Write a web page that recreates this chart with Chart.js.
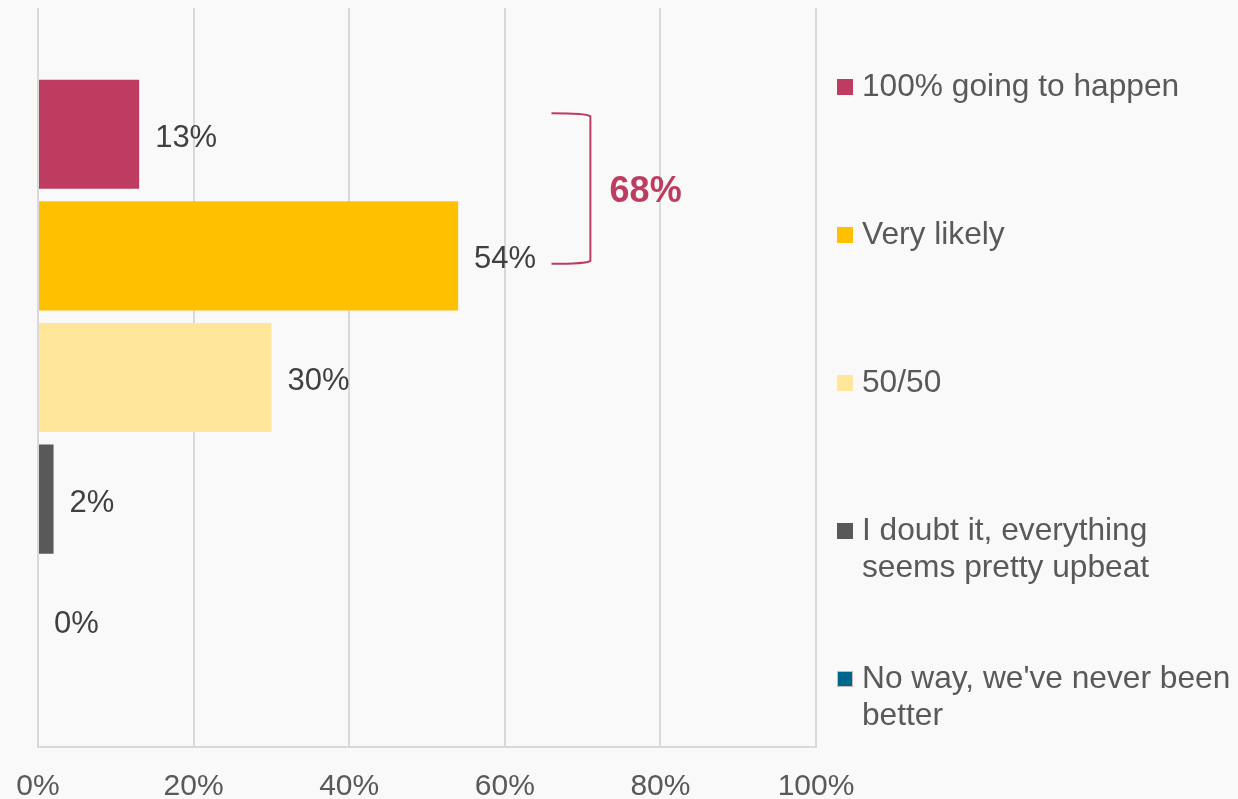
<!DOCTYPE html>
<html>
<head>
<meta charset="utf-8">
<script src="https://cdn.jsdelivr.net/npm/chart.js@4/dist/chart.umd.min.js"></script>
<style>
  html, body { margin: 0; padding: 0; background: #f9f9f9; }
  #wrap { position: relative; width: 1238px; height: 799px; }
</style>
</head>
<body>
<div id="wrap"><canvas id="c" width="1238" height="799"></canvas></div>
<script>
const categories = [''];
const seriesNames = [
  '100% going to happen',
  'Very likely',
  '50/50',
  ['I doubt it, everything', 'seems pretty upbeat'],
  ["No way, we've never been", 'better']
];
const seriesValues = [13, 54, 30, 2, 0];
const seriesColors = ['#be3c5f', '#ffc000', '#ffe699', '#595959', '#00668e'];
const tickValues = [0, 20, 40, 60, 80, 100];
const bracketLabel = '68%';

const FONT = '"Liberation Sans", Arial, sans-serif';

const datasets = seriesValues.map((v, i) => ({
  label: Array.isArray(seriesNames[i]) ? seriesNames[i].join(' ') : seriesNames[i],
  data: [v],
  backgroundColor: seriesColors[i],
  borderWidth: 0,
  categoryPercentage: 0.823,
  barPercentage: 0.897
}));

const overlay = {
  id: 'overlay',
  afterDatasetsDraw(chart) {
    const ctx = chart.ctx;
    const xs = chart.scales.x;
    ctx.save();
    // data labels
    ctx.font = '31px ' + FONT;
    ctx.fillStyle = '#404040';
    ctx.textBaseline = 'middle';
    ctx.textAlign = 'left';
    chart.data.datasets.forEach((ds, i) => {
      const el = chart.getDatasetMeta(i).data[0];
      ctx.fillText(seriesValues[i] + '%', el.x + 16, el.y + 4);
    });
    // bracket
    const e0 = chart.getDatasetMeta(0).data[0];
    const e1 = chart.getDatasetMeta(1).data[0];
    const top = e0.y - 21, bot = e1.y + 8;
    const xl = xs.getPixelForValue(66), xr = xs.getPixelForValue(71);
    ctx.strokeStyle = '#be3c5f';
    ctx.lineWidth = 2;
    ctx.beginPath();
    ctx.moveTo(xl, top);
    ctx.quadraticCurveTo(xr - 4, top, xr, top + 3);
    ctx.lineTo(xr, bot - 3);
    ctx.quadraticCurveTo(xr - 4, bot, xl, bot);
    ctx.stroke();
    ctx.font = 'bold 36px ' + FONT;
    ctx.fillStyle = '#be3c5f';
    ctx.textAlign = 'center';
    ctx.fillText(bracketLabel, xs.getPixelForValue(78.1), (top + bot) / 2 + 4);
    // legend
    ctx.font = '31.7px ' + FONT;
    ctx.textAlign = 'left';
    ctx.textBaseline = 'middle';
    const lx = chart.chartArea.right + 21;
    seriesNames.forEach((name, i) => {
      const y = 87 + i * 148;
      ctx.fillStyle = seriesColors[i];
      ctx.fillRect(lx, y - 8, 16, 16);
      if (i === 4) { ctx.strokeStyle = '#bfbfbf'; ctx.lineWidth = 1; ctx.strokeRect(lx + 0.5, y - 7.5, 15, 15); }
      ctx.fillStyle = '#595959';
      const lines = Array.isArray(name) ? name : [name];
      lines.forEach((t, j) => ctx.fillText(t, lx + 25, y + j * 37));
    });
    ctx.restore();
  }
};

new Chart(document.getElementById('c'), {
  type: 'bar',
  data: { labels: categories, datasets },
  options: {
    indexAxis: 'y',
    responsive: false,
    animation: false,
    layout: { padding: { left: 38, right: 422, top: 8, bottom: 0 } },
    plugins: { legend: { display: false }, tooltip: { enabled: false } },
    scales: {
      y: { display: false },
      x: {
        min: 0, max: 100,
        afterBuildTicks(scale) { scale.ticks = tickValues.map(v => ({ value: v })); },
        afterFit(scale) { scale.height = 52; scale.paddingLeft = 0; scale.paddingRight = 0; },
        grid: { color: '#d9d9d9', lineWidth: 2, drawTicks: false },
        border: { display: true, color: '#d9d9d9', width: 2 },
        ticks: {
          padding: 22,
          color: '#595959',
          font: { family: FONT, size: 30 },
          callback: v => v + '%'
        }
      }
    }
  },
  plugins: [overlay]
});
</script>
</body>
</html>
